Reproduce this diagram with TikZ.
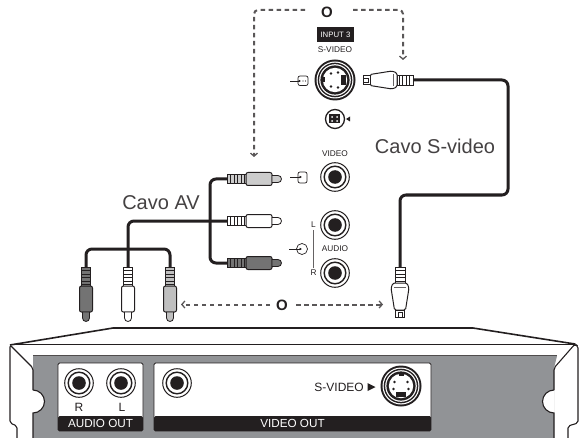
\documentclass[tikz,border=0pt]{standalone}
\usepackage{fontspec}
\setmainfont{Liberation Sans}
\usepackage{xcolor}
\usetikzlibrary{arrows.meta}
\definecolor{panelgrey}{HTML}{919396}
\definecolor{inkdark}{HTML}{231F20}
\tikzset{
  cable/.style={draw=inkdark, line width=3pt, rounded corners=6pt},
  hint/.style={draw=inkdark!75, line width=2pt, dash pattern=on 4.5pt off 3.5pt, rounded corners=4pt,
               -{Straight Barb[length=3pt,width=7pt,line width=1.3pt]}},
  big/.style={font=\fontsize{20}{22}\selectfont, text=inkdark!85, inner sep=0pt},
  tiny/.style={font=\fontsize{8.3}{9}\selectfont, text=inkdark, inner sep=0pt},
  small/.style={font=\fontsize{12}{13}\selectfont, text=inkdark, inner sep=0pt},
  orlabel/.style={font=\fontsize{15}{16}\selectfont\bfseries, text=inkdark, inner sep=0pt},
  panel/.style={draw=inkdark, fill=white, line width=0.9pt, rounded corners=1.5pt},
  stripe/.style={fill=inkdark, rounded corners=1.5pt, text=white, inner sep=0pt,
                 font=\fontsize{11.7}{12}\selectfont, minimum height=15pt},
  pics/rcajack/.style={code={
    \draw[inkdark, line width=1pt, fill=white] (0,0) circle (14.3);
    \draw[inkdark, line width=1.4pt] (0,0) circle (10.8);
    \fill[inkdark] (0,0) circle (6.8);
  }},
  pics/rcaplug/.style={code={
    \coordinate (-tail) at (0,0);
    \draw[inkdark, fill=#1, line width=0.7pt] (0,-4.5) rectangle (19,4.5);
    \foreach \r in {3.5,7,10.5,14,17}
      \draw[inkdark, line width=0.8pt] (\r,-4.5) -- (\r,4.5);
    \draw[inkdark, fill=#1, line width=1pt, rounded corners=2pt] (19,-6.5) rectangle (45,6.5);
    \draw[inkdark, fill=#1, line width=0.8pt] (45,-3.5) -- (51,-3.5) arc (-90:90:3.5) -- (45,3.5) -- cycle;
  }},
  pics/sviplug/.style={code={
    \coordinate (-tail) at (0,0);
    \draw[inkdark, fill=white, line width=0.7pt] (0,-5) rectangle (16,5);
    \foreach \r in {3.5,7,10.5,14}
      \draw[inkdark, line width=1pt] (\r,-5) -- (\r,5);
    \draw[inkdark, fill=white, line width=1pt, rounded corners=1.5pt]
      (16,-7) -- (21,-9) -- (43,-5.5) -- (43,5.5) -- (21,9) -- (16,7) -- cycle;
    \draw[inkdark!70, line width=0.8pt] (20,-6) -- (20,6);
    \draw[inkdark, fill=white, line width=1pt] (43,-4.5) rectangle (50,4.5);
    \draw[inkdark, line width=0.6pt] (45,-2) rectangle (50,2);
  }},
  pics/svijack/.style={code={
    \fill[inkdark] (0,0) circle (20.5);
    \fill[white] (0,0) circle (18.5);
    \fill[inkdark] (0,0) circle (17.3);
    \fill[white] (0,0) circle (15.8);
    \fill[inkdark] (0,0) circle (14.6);
    \fill[white] (0,0) circle (12.2);
    \fill[inkdark] (-2.5,-10.5) rectangle (2.5,-13);
    \fill[inkdark] (-5,6) rectangle (5,11);
    \foreach \px/\py in {-6.5/-4,6.5/-4,-7.5/3,7.5/3}
      \fill[inkdark] (\px,\py) circle (1.4);
  }},
}
\begin{document}
\begin{tikzpicture}[x=1pt, y=-1pt]
  \useasboundingbox (0,0) rectangle (585,438);

  % device
  \fill[panelgrey] (33,356) -- (557,356) -- (554,368) -- (554,438) -- (33,438) -- (33,368) -- cycle;
  \fill[white] (33,390) arc (-90:90:11.5) -- cycle;
  \fill[white] (554,390) arc (270:90:11.5) -- cycle;
  \draw[inkdark, line width=1.6pt] (10,345) -- (113,328) -- (473,328) -- (575,344);
  \draw[inkdark, line width=0.7pt] (12,344) -- (575,344);
  \draw[inkdark!80, line width=1.3pt] (33,355.5) -- (557,355.5);
  \draw[inkdark, line width=1.1pt, rounded corners=2pt]
    (17,438) -- (17,426) -- (10,423) -- (10,345) -- (33,368) -- (33,390);
  \draw[inkdark, line width=1.1pt] (33,390) arc (-90:90:11.5) -- (33,438);
  \draw[inkdark, line width=1.1pt, rounded corners=2pt]
    (568,438) -- (568,426) -- (578,423) -- (578,346) -- (575,344) -- (554,368) -- (554,390);
  \draw[inkdark, line width=1.1pt] (554,390) arc (270:90:11.5) -- (554,438);

  \node[panel, minimum width=85pt, minimum height=68pt, inner sep=0pt] (audiopanel) at (100.5,397) {};
  \node[panel, minimum width=277pt, minimum height=68pt, inner sep=0pt] (videopanel) at (292.5,397) {};
  \node[stripe, minimum width=85pt] (audioout) at (100.5,423.5) {AUDIO OUT};
  \node[stripe, minimum width=277pt] (videoout) at (292.5,423.5) {VIDEO OUT};
  \pic (jackr) at (79,383) {rcajack};
  \pic (jackl) at (121,383) {rcajack};
  \pic (jackv) at (177,383) {rcajack};
  \node[small] (labr) at (79,407) {R};
  \node[small] (labl) at (122,407) {L};
  \node[small, anchor=east] (labs) at (364,387) {S-VIDEO};
  \fill[inkdark] (367.5,383) -- (375.5,387) -- (367.5,391) -- cycle;
  \pic (svout) at (401,386) {svijack};

  % back panel of the set
  \node[fill=inkdark, text=white, minimum width=37pt, minimum height=15pt, inner sep=0pt,
        font=\fontsize{7.8}{8}\selectfont] (inputthree) at (335.5,34.5) {INPUT 3};
  \node[tiny] (labsvideo) at (335,50) {S-VIDEO};
  \pic[rotate=90] (svin) at (335,80) {svijack};
  \node[draw=inkdark, line width=1.3pt, circle, inner sep=0pt, minimum size=19pt] (svsmall) at (335,119) {};
  \fill[inkdark] (329,114.5) rectangle (340,123.5);
  \fill[white] (332,117) circle (1) (337,117) circle (1) (332,121) circle (1) (337,121) circle (1);
  \fill[inkdark] (346,119) -- (350,116.5) -- (350,121.5) -- cycle;
  \draw[inkdark, line width=0.7pt, -{Latex[length=2.5pt,width=3pt]}] (290,81) -- (301,81);
  \draw[inkdark, line width=0.7pt, rounded corners=2pt] (298,76) rectangle (308,85.5);
  \fill[inkdark] (303,81) circle (0.6) (305.5,81) circle (0.6);

  \node[tiny] (labvideo) at (335,154) {VIDEO};
  \node[tiny] (labaudio) at (335,249) {AUDIO};
  \node[tiny] (labjl) at (313.5,225) {L};
  \node[tiny] (labjr) at (313.5,273) {R};
  \draw[inkdark!70, line width=0.7pt] (labjl.south) ++(0,2) -- ([yshift=2pt]labjr.north);
  \pic (jackvideo) at (335,177) {rcajack};
  \pic (jackleft) at (335,225) {rcajack};
  \pic (jackright) at (335,273) {rcajack};
  \draw[inkdark, line width=0.7pt, -{Latex[length=2.5pt,width=3pt]}] (290,177) -- (302,177);
  \draw[inkdark, line width=0.7pt, rounded corners=2pt] (298,172) rectangle (307,183);
  \draw[inkdark, line width=0.7pt, -{Latex[length=2.5pt,width=3pt]}] (289,249) -- (302,249);
  \draw[inkdark, line width=0.7pt] (302,249) circle (5.5);

  % plugs
  \pic (avtop) at (227,179) {rcaplug=black!20};
  \pic (avmid) at (227,221) {rcaplug=white};
  \pic (avbot) at (227,263) {rcaplug=black!55};
  \pic[rotate=-90] (outl) at (86,267) {rcaplug=black!55};
  \pic[rotate=-90] (outm) at (128,267) {rcaplug=white};
  \pic[rotate=-90] (outr) at (170,267) {rcaplug=black!25};
  \pic[rotate=180] (svplug) at (413,80) {sviplug};
  \pic[rotate=-90] (svend) at (400,267) {sviplug};

  % cables
  \draw[cable] (avtop-tail) -- (210,179) -- (210,263) -- (avbot-tail);
  \draw[cable] (avmid-tail) -- (128,221) -- (outm-tail);
  \draw[cable] (outl-tail) -- (86,249) -- (170,249) -- (outr-tail);
  \draw[cable] (svplug-tail) -- (508,80) -- (508,195) -- (400,195) -- (svend-tail);

  \node[big] (cavoav) at (161,203) {Cavo AV};
  \node[big] (cavosv) at (435,146) {Cavo S-video};

  % alternatives
  \node[orlabel] (ortop) at (327,12) {O};
  \node[orlabel] (orbot) at (282,305) {O};
  \coordinate (dropav) at (254,157);
  \coordinate (dropsv) at (403,60);
  \coordinate (leftend) at (181,304.5);
  \coordinate (rightend) at (383,304.5);
  \draw[hint] (305,10) -- (254,10) -- (dropav);
  \draw[hint] (353,10) -- (403,10) -- (dropsv);
  \draw[hint] (270,304.5) -- (leftend);
  \draw[hint] (296,304.5) -- (rightend);
\end{tikzpicture}
\end{document}
